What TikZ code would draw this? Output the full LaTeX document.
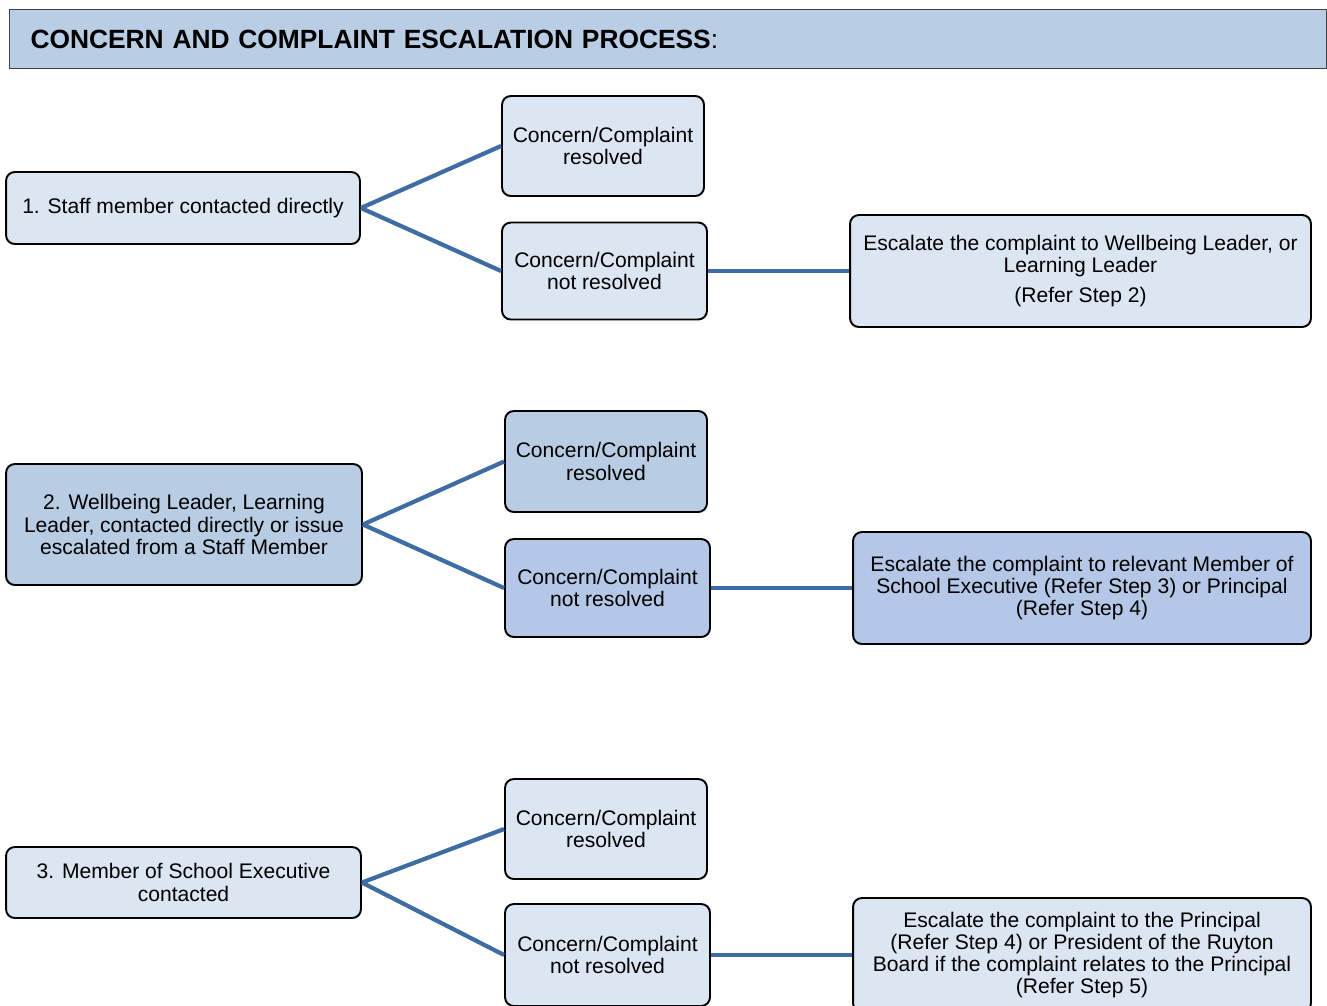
\documentclass[tikz,border=0pt]{standalone}
\usepackage{fontspec}
\setmainfont{Liberation Sans}
\definecolor{lightfill}{HTML}{DCE6F2}
\definecolor{darkfill}{HTML}{B8CCE4}
\definecolor{darkfillb}{HTML}{B4C7E7}
\definecolor{titlefill}{HTML}{B9CDE5}
\definecolor{linkblue}{HTML}{3F6CA3}
\begin{document}
\begin{tikzpicture}[x=0.02cm,y=-0.02cm,
  box/.style={draw=black, line width=1.1pt, rounded corners=5pt, fill=lightfill,
    align=center, inner sep=2pt, font=\fontsize{12pt}{12.7pt}\selectfont},
  dark/.style={fill=darkfill},
  darkb/.style={fill=darkfillb},
  link/.style={draw=linkblue, line width=2.4pt},
  banner/.style={draw=black!75, line width=0.6pt, fill=titlefill, anchor=north west,
    minimum height=1.18cm, text width=25.5cm, inner xsep=0.42cm, align=left,
    font=\fontsize{15pt}{17pt}\selectfont}
]
\useasboundingbox (0,0) rectangle (1327,1005);
\clip (0,0) rectangle (1327,1005);
\fill[white] (0,0) rectangle (1327,1005);

\node[banner] (title) at (9,9) {\textbf{CONCERN AND COMPLAINT ESCALATION PROCESS}:};

% Row 1
\node[box, minimum width=7.08cm, minimum height=1.44cm] (a1) at (183,208) {1. Staff member contacted directly};
\node[box, minimum width=4.04cm, minimum height=2.0cm] (r1) at (603,146) {Concern/Complaint\\resolved};
\node[box, minimum width=4.1cm, minimum height=1.94cm] (n1) at (604.5,271) {Concern/Complaint\\not resolved};
\node[box, minimum width=9.22cm, minimum height=2.24cm] (e1) at (1080.5,271) {Escalate the complaint to Wellbeing Leader, or\\Learning Leader\\[4pt](Refer Step 2)};

% Row 2
\node[box, dark, minimum width=7.12cm, minimum height=2.42cm] (a2) at (184,524.5) {2. Wellbeing Leader, Learning\\Leader, contacted directly or issue\\escalated from a Staff Member};
\node[box, dark, minimum width=4.04cm, minimum height=2.02cm] (r2) at (606,461.5) {Concern/Complaint\\resolved};
\node[box, darkb, minimum width=4.1cm, minimum height=1.96cm] (n2) at (607.5,588) {Concern/Complaint\\not resolved};
\node[box, darkb, minimum width=9.16cm, minimum height=2.24cm] (e2) at (1082,588) {Escalate the complaint to relevant Member of\\School Executive (Refer Step 3) or Principal\\(Refer Step 4)};

% Row 3
\node[box, minimum width=7.1cm, minimum height=1.42cm] (a3) at (183.5,882.5) {3. Member of School Executive\\contacted};
\node[box, minimum width=4.04cm, minimum height=2.0cm] (r3) at (606,829) {Concern/Complaint\\resolved};
\node[box, minimum width=4.1cm, minimum height=2.04cm] (n3) at (607.5,955) {Concern/Complaint\\not resolved};
\node[box, minimum width=9.16cm, minimum height=2.28cm] (e3) at (1082,955) {Escalate the complaint to the Principal\\(Refer Step 4) or President of the Ruyton\\Board if the complaint relates to the Principal\\(Refer Step 5)};

% Connectors
\draw[link] (a1.east) -- (r1.west);
\draw[link] (a1.east) -- (n1.west);
\draw[link] (n1.east) -- (e1.west);
\draw[link] (a2.east) -- (r2.west);
\draw[link] (a2.east) -- (n2.west);
\draw[link] (n2.east) -- (e2.west);
\draw[link] (a3.east) -- (r3.west);
\draw[link] (a3.east) -- (n3.west);
\draw[link] (n3.east) -- (e3.west);
\end{tikzpicture}
\end{document}
